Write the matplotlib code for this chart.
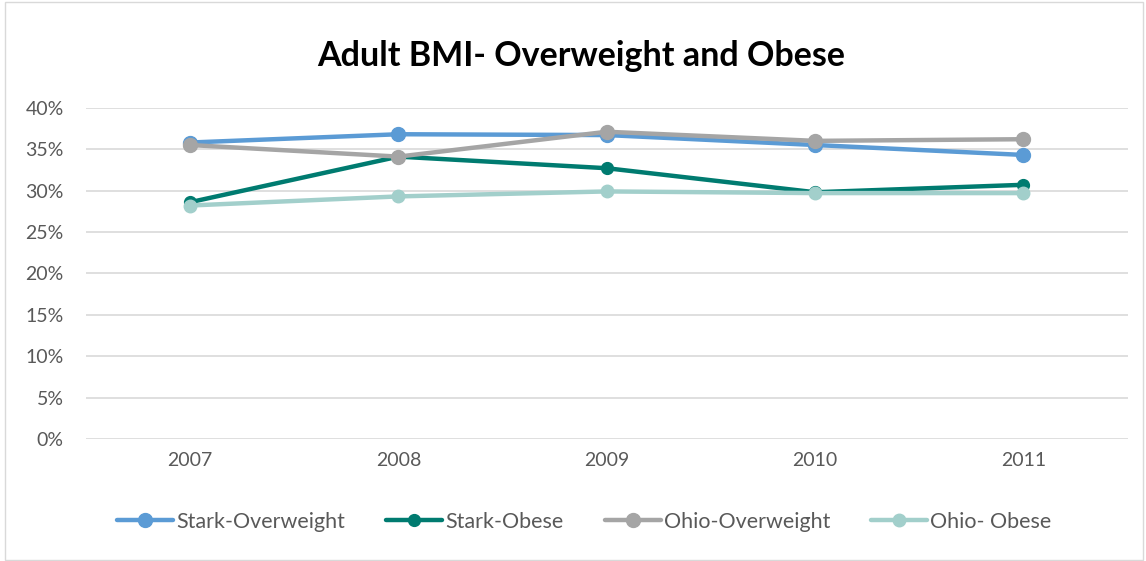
import matplotlib.pyplot as plt
from matplotlib.ticker import FuncFormatter
from matplotlib.patches import Rectangle

years = ["2007", "2008", "2009", "2010", "2011"]
stark_overweight = [0.358, 0.368, 0.367, 0.355, 0.343]
stark_obese = [0.286, 0.341, 0.327, 0.298, 0.307]
ohio_overweight = [0.355, 0.341, 0.371, 0.360, 0.362]
ohio_obese = [0.282, 0.293, 0.299, 0.297, 0.297]

series = [
    ("Stark-Overweight", stark_overweight, "#5B9BD5", 10),
    ("Stark-Obese", stark_obese, "#007B70", 8.5),
    ("Ohio-Overweight", ohio_overweight, "#A5A5A5", 10),
    ("Ohio- Obese", ohio_obese, "#A2CFCB", 9),
]

plt.rcParams["font.family"] = ["Lato", "DejaVu Sans"]

fig = plt.figure(figsize=(11.46, 5.61), dpi=100)
ax = fig.add_axes([0.075, 0.217, 0.909, 0.591])

x = range(len(years))
for label, values, color, ms in series:
    ax.plot(x, values, marker="o", color=color, lw=3.2, ms=ms,
            label=label, solid_capstyle="round")

ax.set_xlim(-0.5, len(years) - 0.5)
ax.set_ylim(0, 0.40)
ax.set_yticks([i * 0.05 for i in range(9)])
ax.yaxis.set_major_formatter(FuncFormatter(lambda y, _: f"{100 * y:.0f}%"))
ax.set_xticks(list(x))
ax.set_xticklabels(years)
ax.grid(True, axis="y", color="#D9D9D9", lw=1.2)
ax.set_axisbelow(True)
for s in ax.spines.values():
    s.set_visible(False)
ax.tick_params(length=0, labelsize=14, colors="#595959")
ax.tick_params(axis="x", pad=9)
ax.tick_params(axis="y", pad=16)

fig.text(0.507, 0.9, "Adult BMI- Overweight and Obese", ha="center", va="center",
         fontsize=24.5, fontweight="bold", color="black")

fig.legend(loc="center", bbox_to_anchor=(0.51, 0.07), ncol=4, frameon=False,
           fontsize=15.5, labelcolor="#595959", handlelength=2.6,
           handletextpad=0.15, columnspacing=1.9)

fig.patches.append(Rectangle((0.004, 0.002), 0.993, 0.994, transform=fig.transFigure,
                             fill=False, edgecolor="#D9D9D9", lw=1))

fig.savefig("out.png", dpi=100)
